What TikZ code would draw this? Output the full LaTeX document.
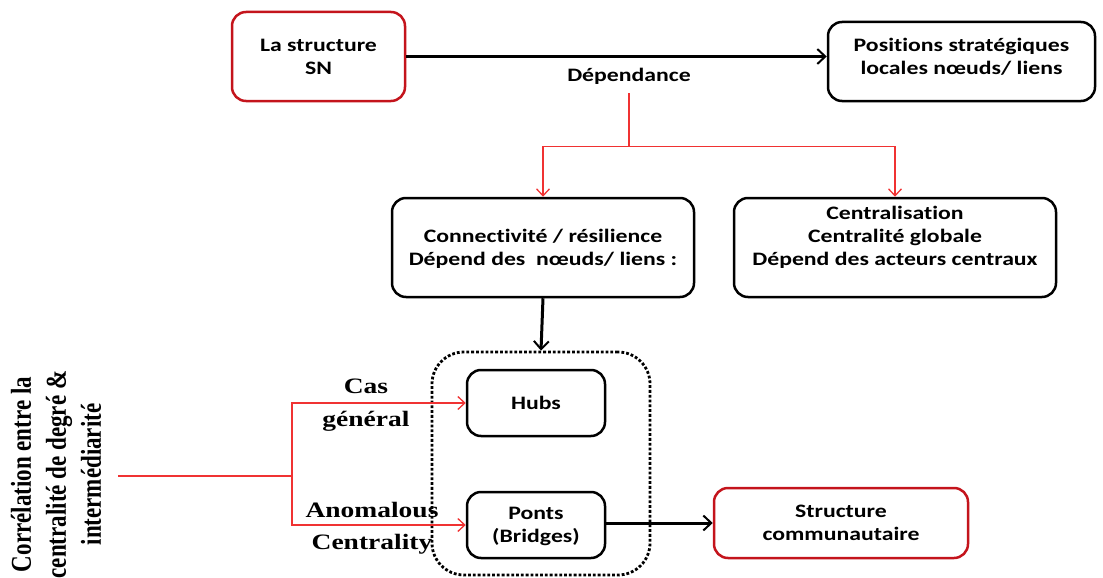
\documentclass[tikz,border=0pt]{standalone}
\usepackage{fontspec}
\usetikzlibrary{arrows.meta}
\newfontfamily\boxfont{Carlito}[FakeStretch=1.25, Ligatures=NoCommon]
\newfontfamily\labfont{Liberation Serif}[FakeStretch=1.25]
\newfontfamily\rotfont{Liberation Serif}
\definecolor{boxred}{RGB}{196,20,28}
\definecolor{linkred}{RGB}{240,50,50}
\begin{document}
\begin{tikzpicture}[x=1pt,y=-1pt,
  box/.style={draw, rounded corners=14pt, line width=2.5pt, inner sep=0pt, fill=white},
  redbox/.style={box, draw=boxred},
  txt/.style={font=\boxfont\bfseries\fontsize{19}{23}\selectfont, align=center, inner sep=0pt},
  lab/.style={font=\labfont\bfseries\fontsize{22}{26}\selectfont, inner sep=0pt},
  blk/.style={line width=3pt, -{Straight Barb[length=8pt,width=15pt,line width=2pt]}},
  rlink/.style={draw=linkred, line width=1.5pt},
  rarrow/.style={rlink, -{Straight Barb[length=7pt,width=13pt,line width=1.3pt]}}]
\useasboundingbox (0,0) rectangle (1103,578);
\clip (0,0) rectangle (1103,578);

% top row
\node[redbox, minimum width=173pt, minimum height=89pt] (sn) at (318.5,56.5) {};
\node[txt] at (sn.center) {La structure\\SN};
\node[box, minimum width=267pt, minimum height=79pt] (pos) at (961.5,61.5) {};
\node[txt] at ([yshift=4.5pt]pos.center) {Positions stratégiques\\locales nœuds/ liens};
\draw[blk] (sn.east) -- (sn.east -| pos.west);
\node[txt] (dep) at (629,76) {Dépendance};

% second row
\node[box, minimum width=302pt, minimum height=99pt] (conn) at (543,247.5) {};
\node[txt] at ([yshift=-1pt]conn.center) {Connectivité / résilience\\Dépend des\ \ nœuds/ liens :};
\node[box, minimum width=322pt, minimum height=99pt] (cent) at (895,247.5) {};
\node[txt] at ([yshift=10pt]cent.center) {Centralisation\\Centralité globale\\Dépend des acteurs centraux};

\draw[rlink] ([yshift=-9pt]dep.south) -- ++(0,53) coordinate (fork);
\draw[rarrow] (fork) -| (conn.north);
\draw[rarrow] (fork) -| (cent.north);

% grouped hubs and bridges
\node[draw, dotted, line width=2.8pt, rounded corners=32pt, minimum width=218pt, minimum height=223pt] (grp) at (541,463.5) {};
\draw[blk] (conn.south) -- (grp.north);
\node[box, minimum width=138pt, minimum height=66pt] (hubs) at (536,403) {};
\node[txt] at (hubs.center) {Hubs};
\node[box, minimum width=138pt, minimum height=66pt] (ponts) at (536,525) {};
\node[txt] at ([yshift=-1.5pt]ponts.center) {Ponts\\(Bridges)};
\node[redbox, minimum width=254pt, minimum height=70pt] (comm) at (841,523) {};
\node[txt] at ([yshift=0.5pt]comm.center) {Structure\\communautaire};
\draw[blk] (ponts.east |- comm.west) -- (comm.west);

% correlation branch
\node[font=\rotfont\bfseries\fontsize{23}{28}\selectfont, align=center, inner sep=0pt, xscale=1.25, rotate=90] (corr) at (56,474.5)
  {Corrélation entre la\\centralité de degré \&\\intermédiarité};
\coordinate (start) at (118,476);
\coordinate (split) at (292,476);
\draw[rlink] (start) -- (split);
\draw[rarrow] (split) |- (hubs.west);
\draw[rarrow] (split) |- (ponts.west);
\node[lab] (cas) at (366,386) {Cas};
\node[lab] (gen) at (366,421) {général};
\node[lab] (ano) at (372,510) {Anomalous};
\node[lab] (ctr) at (372,544) {Centrality};
\end{tikzpicture}
\end{document}
